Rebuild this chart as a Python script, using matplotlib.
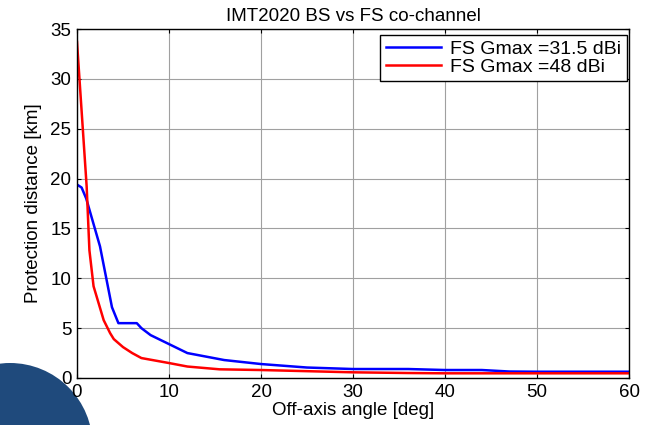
import matplotlib
matplotlib.use("Agg")
import matplotlib.pyplot as plt
from matplotlib.patches import Ellipse

plt.rcParams['font.family'] = ['Liberation Sans', 'DejaVu Sans']

title = "IMT2020 BS vs FS co-channel"
xlabel = "Off-axis angle [deg]"
ylabel = "Protection distance [km]"
labels = ["FS Gmax =31.5 dBi", "FS Gmax =48 dBi"]

blue_x = [0, 0.5, 1, 2.5, 3.8, 4.5, 6.5, 7, 8, 10, 12, 16, 20, 25, 30, 36, 40, 44, 47, 50, 60]
blue_y = [19.4, 19.1, 18.0, 13.2, 7.1, 5.5, 5.5, 5.0, 4.3, 3.4, 2.5, 1.8, 1.4, 1.05, 0.9, 0.9, 0.8, 0.8, 0.65, 0.63, 0.63]

red_x = [0, 0.5, 1.05, 1.35, 1.8, 2.9, 3.6, 4.0, 5, 6, 7, 10, 12, 15.5, 20, 30, 36, 40, 60]
red_y = [33.7, 26.8, 19.2, 12.8, 9.2, 5.8, 4.5, 3.9, 3.1, 2.5, 2.0, 1.5, 1.15, 0.87, 0.8, 0.57, 0.5, 0.47, 0.47]

xticks = [0, 10, 20, 30, 40, 50, 60]
yticks = [0, 5, 10, 15, 20, 25, 30, 35]

W, H = 648, 425
FS = 13.5
fig = plt.figure(figsize=(W / 100, H / 100), dpi=100)
ax = fig.add_axes([77 / W, 1 - 378 / H, (629 - 77) / W, (378 - 29) / H])

# decorative circle in lower-left corner
circ = Ellipse((10 / W, 1 - 445.6 / H), 2 * 82.6 / W, 2 * 82.6 / H,
               transform=fig.transFigure, facecolor='#1f4a7c', edgecolor='none', zorder=-5)
fig.patches.append(circ)

ax.plot(blue_x, blue_y, color='#0000ff', lw=1.8, label=labels[0])
ax.plot(red_x, red_y, color='#ff0000', lw=1.8, label=labels[1])

ax.set_xlim(0, 60)
ax.set_ylim(0, 35)
ax.set_xticks(xticks)
ax.set_yticks(yticks)
ax.grid(True, color='#a0a0a0', lw=0.8, linestyle='-')
ax.tick_params(direction='in', top=True, right=True, labelsize=FS, length=3, width=0.8,
               colors='black', pad=4)
for s in ax.spines.values():
    s.set_linewidth(1.0)
    s.set_color('black')

ax.set_title(title, fontsize=FS, pad=6)
ax.set_xlabel(xlabel, fontsize=FS, labelpad=1)
ax.set_ylabel(ylabel, fontsize=FS, labelpad=6)

leg = ax.legend(loc='upper right', bbox_to_anchor=(0.997, 0.984), fontsize=14,
                fancybox=False, framealpha=1, edgecolor='black', handlelength=2.8,
                borderaxespad=0, borderpad=0.3, labelspacing=0.0, handletextpad=0.5)
leg.get_frame().set_linewidth(1.0)

fig.savefig("out.png", dpi=100)
